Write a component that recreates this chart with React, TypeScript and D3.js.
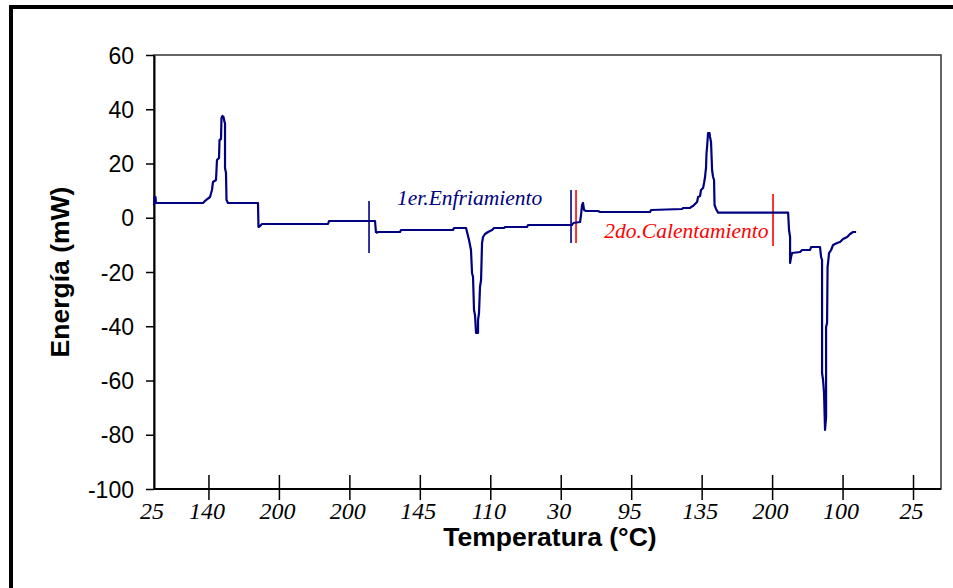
import * as d3 from "d3";
import { useEffect, useRef } from "react";

// x is a running sample position (arbitrary units, 10 units per labelled tick)
const xTickLabels = ["25", "140", "200", "200", "145", "110", "30", "95", "135", "200", "100", "25"];
const xTickPos = [0, 7.8, 17.8, 27.8, 37.8, 47.8, 57.8, 67.8, 77.8, 87.8, 97.8, 107.8];
const yTicks = [-100, -80, -60, -40, -20, 0, 20, 40, 60];

const heating1: [number, number][] = [
    [0, 4.7], [0.07, 7.65], [0.21, 7.65], [0.28, 5.44], [6.96, 5.44], [7.38, 6.54], [7.95, 7.65],
    [8.23, 10.23], [8.37, 13.18], [8.8, 13.92], [8.94, 21.29], [9.23, 22.03], [9.3, 28.66],
    [9.51, 29.03], [9.58, 36.77], [9.72, 37.51], [9.87, 37.14], [10.01, 35.3], [10.08, 34.93],
    [10.08, 18.34], [10.22, 16.5], [10.29, 6.54], [10.5, 5.44], [14.76, 5.44], [14.83, -3.41],
    [15.05, -3.04], [15.33, -2.3], [24.7, -2.3], [24.84, -1.2], [31.37, -1.2],
];

const cooling1: [number, number][] = [
    [31.51, -5.62], [31.8, -5.25], [34.92, -5.25], [35.06, -4.52], [42.44, -4.52], [42.58, -3.78],
    [44.29, -3.78], [44.43, -5.25], [44.71, -8.2], [44.99, -11.89], [45.14, -20.37], [45.28, -21.84],
    [45.42, -34.01], [45.56, -35.85], [45.71, -42.49], [45.99, -42.49], [45.99, -37.7], [46.13, -35.11],
    [46.27, -25.53], [46.42, -22.95], [46.56, -9.31], [46.7, -7.1], [46.98, -5.99], [47.41, -5.25],
    [47.98, -4.52], [48.26, -3.78], [49.68, -3.78], [49.82, -3.41], [52.94, -3.41], [53.09, -2.67],
    [59.33, -2.67],
];

const heating2: [number, number][] = [
    [59.47, -1.94], [60.47, -1.57], [60.61, 1.01], [60.75, 4.7], [60.89, 5.44], [61.04, 2.86],
    [61.32, 2.49], [63.02, 2.49], [63.31, 2.12], [70.4, 2.12], [70.55, 2.86], [74.95, 3.23],
    [75.09, 3.59], [76.08, 3.59], [76.22, 3.96], [76.51, 4.33], [76.79, 5.07], [77.08, 5.81],
    [77.22, 7.65], [77.5, 8.02], [77.64, 10.23], [77.93, 10.97], [78.07, 12.81], [78.21, 15.02],
    [78.28, 16.87], [78.35, 18.34], [78.42, 23.87], [78.5, 26.08], [78.57, 28.66], [78.64, 31.24],
    [78.85, 31.24], [78.92, 29.77], [79.06, 27.92], [79.21, 17.6], [79.35, 15.02], [79.49, 13.92],
    [79.56, 4.7], [79.77, 3.23], [80.06, 1.9], [90.0, 1.9], [90.13, -4.52], [90.28, -7.1],
    [90.28, -16.68], [90.42, -14.47], [90.56, -13.0], [91.7, -12.63], [91.98, -11.89], [93.12, -11.89],
    [93.26, -10.78], [94.53, -10.78], [94.68, -14.47], [94.82, -15.58], [94.82, -57.24], [94.96, -59.82],
    [95.1, -64.61], [95.24, -78.25], [95.39, -73.46], [95.39, -40.27], [95.53, -38.8], [95.6, -18.16],
    [95.67, -16.68], [95.81, -13.0], [96.1, -11.89], [96.38, -10.05], [96.95, -9.31], [97.37, -8.94],
    [97.8, -7.83], [98.38, -7.1], [98.79, -5.99], [99.22, -5.25], [99.65, -5.25],
];

// stage separators
const markerX = [30.52, 59.19, 59.9, 87.86];
const markerTop = [6.2, 10.2, 10.2, 8.8];
const markerBottom = [-13.0, -9.3, -9.3, -10.4];
const markerColor = ["#000080", "#000080", "#ff0000", "#ff0000"];

const notes = [
    { text: "1er.Enfriamiento", x: 34.5, y: 4.7, color: "#000080" },
    { text: "2do.Calentamiento", x: 63.9, y: -7.6, color: "#ff0000" },
];

const App = () => {
    const svgRef = useRef<SVGSVGElement | null>(null);

    const dimensions = { width: 953, height: 588 };
    const plot = { left: 154, right: 941, top: 55, bottom: 489 };

    useEffect(() => {
        document.body.style.margin = "0";
        const svg = d3.select(svgRef.current);
        svg.selectAll("*").remove();

        const xScale = d3.scaleLinear().domain([0, 111.7]).range([plot.left, plot.right]);
        const yScale = d3.scaleLinear().domain([-100, 60]).range([plot.bottom, plot.top]);

        // outer border (top + left only visible)
        svg.append("line").attr("x1", 9).attr("x2", dimensions.width).attr("y1", 7).attr("y2", 7)
            .attr("stroke", "#000").attr("stroke-width", 4);
        svg.append("line").attr("x1", 11).attr("x2", 11).attr("y1", 5).attr("y2", dimensions.height)
            .attr("stroke", "#000").attr("stroke-width", 4);

        // plot frame
        svg.append("rect")
            .attr("x", plot.left).attr("y", plot.top)
            .attr("width", plot.right - plot.left).attr("height", plot.bottom - plot.top)
            .attr("fill", "none").attr("stroke", "#333").attr("stroke-width", 1.5);

        // y axis
        const yAxis = d3.axisLeft(yScale).tickValues(yTicks).tickFormat((d) => String(d))
            .tickSize(8).tickSizeOuter(0).tickPadding(12);
        const gy = svg.append("g").attr("transform", `translate(${plot.left},0)`).call(yAxis);
        gy.select(".domain").attr("stroke", "#000").attr("stroke-width", 2);
        gy.selectAll(".tick line").attr("stroke", "#000").attr("stroke-width", 1.5);
        gy.selectAll(".tick text")
            .attr("font-family", "Arial, 'Liberation Sans', sans-serif")
            .attr("font-size", 23).attr("fill", "#000").attr("dy", "0.35em");

        // x axis
        svg.append("line")
            .attr("x1", plot.left).attr("x2", plot.right)
            .attr("y1", plot.bottom).attr("y2", plot.bottom)
            .attr("stroke", "#000").attr("stroke-width", 2);
        const gx = svg.append("g");
        xTickPos.forEach((p, i) => {
            if (i > 0) {
                gx.append("line")
                    .attr("x1", xScale(p)).attr("x2", xScale(p))
                    .attr("y1", plot.bottom - 14).attr("y2", plot.bottom + 11)
                    .attr("stroke", "#000").attr("stroke-width", 1.5);
            }
            gx.append("text")
                .attr("x", xScale(p) - 2).attr("y", plot.bottom + 30)
                .attr("text-anchor", "middle")
                .attr("font-family", "'Times New Roman', 'Liberation Serif', serif")
                .attr("font-style", "italic").attr("font-size", 24)
                .text(xTickLabels[i]);
        });

        // axis titles
        svg.append("text")
            .attr("x", 550).attr("y", 546)
            .attr("text-anchor", "middle")
            .attr("font-family", "Arial, 'Liberation Sans', sans-serif")
            .attr("font-weight", "bold").attr("font-size", 26.5)
            .text("Temperatura (°C)");
        svg.append("text")
            .attr("transform", `translate(69,${(plot.top + plot.bottom) / 2}) rotate(-90)`)
            .attr("text-anchor", "middle")
            .attr("font-family", "Arial, 'Liberation Sans', sans-serif")
            .attr("font-weight", "bold").attr("font-size", 26.5)
            .text("Energía (mW)");

        // markers
        markerX.forEach((m, i) => {
            svg.append("line")
                .attr("x1", xScale(m)).attr("x2", xScale(m))
                .attr("y1", yScale(markerTop[i])).attr("y2", yScale(markerBottom[i]))
                .attr("stroke", markerColor[i]).attr("stroke-width", 1.6);
        });

        const line = d3.line<[number, number]>()
            .x((d) => xScale(d[0]))
            .y((d) => yScale(d[1]));

        [heating1, cooling1, heating2].forEach((seg, i, all) => {
            // join segments so the trace stays continuous
            const pts = i < all.length - 1 ? [...seg, all[i + 1][0]] : seg;
            svg.append("path")
                .datum(pts)
                .attr("d", line)
                .attr("fill", "none")
                .attr("stroke", "#000080")
                .attr("stroke-width", 2.2)
                .attr("stroke-linejoin", "round");
        });

        notes.forEach((n) => {
            svg.append("text")
                .attr("x", xScale(n.x)).attr("y", yScale(n.y))
                .attr("font-family", "'Times New Roman', 'Liberation Serif', serif")
                .attr("font-style", "italic").attr("font-size", 21.5)
                .attr("fill", n.color)
                .text(n.text);
        });
    }, []);

    return (
        <svg
            ref={svgRef}
            width={dimensions.width}
            height={dimensions.height}
            style={{ display: "block", background: "#fff" }}
        />
    );
};

export default App;
